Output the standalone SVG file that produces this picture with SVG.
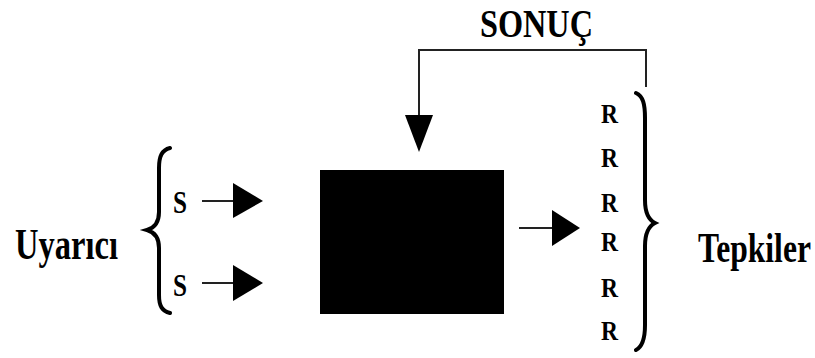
<svg xmlns="http://www.w3.org/2000/svg" width="815" height="358" viewBox="0 0 815 358">
<style>
.t{font-family:"Liberation Serif","Times New Roman",serif;font-weight:bold;fill:#000}
.ln{stroke:#222;stroke-width:2;fill:none}
.br{stroke:#000;stroke-width:4;fill:none;stroke-linecap:round}
.ah{fill:#000}
</style>
<rect width="815" height="358" fill="#fff"/>
<g id="uyarici"><text class="t" x="15" y="259" font-size="45" textLength="103" lengthAdjust="spacingAndGlyphs">Uyarıcı</text></g>
<g id="brace-left"><path class="br" d="M170,148 C162,150 159,156 159,168 L159,212 C159,222 154,228 147,230 C154,232 159,238 159,248 L159,295 C159,306 162,311 170,313"/></g>
<g id="s1"><text class="t" x="173" y="213" font-size="31" textLength="14" lengthAdjust="spacingAndGlyphs">S</text></g>
<g id="s2"><text class="t" x="173" y="296" font-size="31" textLength="14" lengthAdjust="spacingAndGlyphs">S</text></g>
<g id="box"><rect x="320" y="170" width="184" height="144" fill="#000"/></g>
<g id="sonuc"><text class="t" x="480" y="37" font-size="41" textLength="113" lengthAdjust="spacingAndGlyphs">SONUÇ</text></g>
<g id="responses">
<text class="t" x="601" y="123" font-size="28" textLength="17" lengthAdjust="spacingAndGlyphs">R</text>
<text class="t" x="601" y="167" font-size="28" textLength="17" lengthAdjust="spacingAndGlyphs">R</text>
<text class="t" x="601" y="212" font-size="28" textLength="17" lengthAdjust="spacingAndGlyphs">R</text>
<text class="t" x="601" y="251" font-size="28" textLength="17" lengthAdjust="spacingAndGlyphs">R</text>
<text class="t" x="601" y="297" font-size="28" textLength="17" lengthAdjust="spacingAndGlyphs">R</text>
<text class="t" x="601" y="340" font-size="28" textLength="17" lengthAdjust="spacingAndGlyphs">R</text>
</g>
<g id="brace-right"><path class="br" d="M636,93 C643,96 645,104 645,118 L645,200 C645,212 649,220 655,223 C649,226 645,234 645,246 L645,325 C645,340 642,347 636,350"/></g>
<g id="tepkiler"><text class="t" transform="translate(698,262) scale(0.735,1)" x="0" y="0" font-size="43">Tepkiler</text></g>
<g id="connectors">
<line class="ln" x1="202" y1="201" x2="236" y2="201"/>
<polygon class="ah" points="233,183 263,201 233,218"/>
<line class="ln" x1="202" y1="283" x2="236" y2="283"/>
<polygon class="ah" points="233,265 263,283 233,301"/>
<line class="ln" x1="519" y1="228" x2="555" y2="228"/>
<polygon class="ah" points="552,210 580,228 552,246"/>
<polyline class="ln" points="646,87 646,50 419,50 419,118"/>
<polygon class="ah" points="405,115 433,115 419,152"/>
</g>
</svg>
